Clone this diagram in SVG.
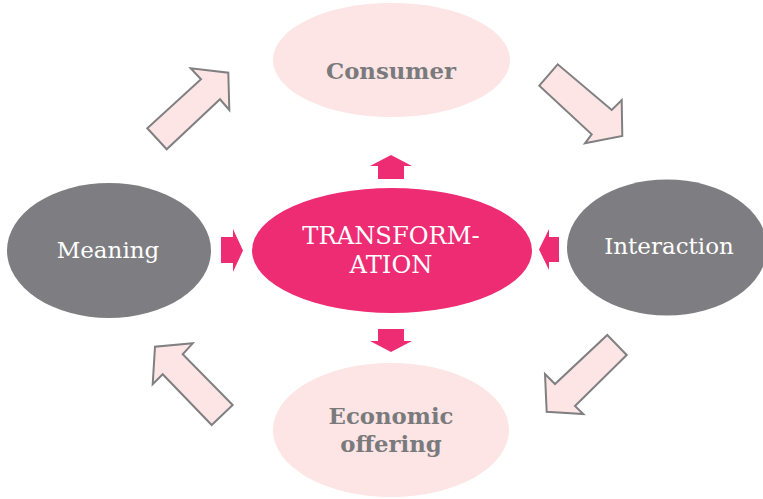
<svg xmlns="http://www.w3.org/2000/svg" width="763" height="499" viewBox="0 0 763 499">
<style>
.light{fill:#fce5e4}
.dark{fill:#7e7d81}
.mag{fill:#ee2c74}
.big{fill:#fce5e4;stroke:#808083;stroke-width:2;stroke-linejoin:miter}
.lbl{font-family:"DejaVu Serif","Liberation Serif",serif;text-anchor:middle}
.b{font-weight:bold;fill:#7a7a7d;font-size:22.8px}
.w{fill:#ffffff;font-size:23px}
.t{font-size:24.2px}
</style>
<rect width="763" height="499" fill="#ffffff"/>
<g id="connectors">
<polygon class="big" points="147.3,128.3 166.7,149.3 220,99.3 229.3,110 228.3,72.7 190.7,68.3 201,79.3"/>
<polygon class="big" points="557.7,64.3 539.3,85.7 591.7,134.3 585,143.3 622.3,136 621.7,100 611.7,110"/>
<polygon class="big" points="607.3,335 626.7,355 575,406 583.3,414 546.7,411.7 545,374 555,384"/>
<polygon class="big" points="211.7,425 232.7,405 182.7,354.3 192.7,343.3 155,346.7 152.7,384.3 162.7,374.3"/>
<polygon class="mag" points="378,179 404,179 404,166 412,166 391,155 370,166 378,166"/>
<polygon class="mag" points="378,329 404,329 404,341 412,341 391,352 370,341 378,341"/>
<polygon class="mag" points="221,237 233,237 233,229 243,250.5 233,272 233,263 221,263"/>
<polygon class="mag" points="559,237 549,237 549,229 539,249.5 549,270 549,262 559,262"/>
</g>
<g id="consumer">
<ellipse class="light" cx="391.5" cy="60" rx="118.5" ry="57"/>
<text class="lbl b" x="391" y="79">Consumer</text>
</g>
<g id="economic-offering">
<ellipse class="light" cx="391" cy="430" rx="118" ry="67"/>
<text class="lbl b" x="391" y="424">Economic</text>
<text class="lbl b" x="391" y="452">offering</text>
</g>
<g id="meaning">
<ellipse class="dark" cx="109" cy="250.5" rx="102" ry="67.5"/>
<text class="lbl w" x="108" y="258">Meaning</text>
</g>
<g id="interaction">
<ellipse class="dark" cx="667" cy="247.5" rx="100" ry="68"/>
<text class="lbl w" x="669" y="254">Interaction</text>
</g>
<g id="transformation">
<ellipse class="mag" cx="392" cy="250.5" rx="140" ry="62.5"/>
<text class="lbl w t" x="391" y="244">TRANSFORM-</text>
<text class="lbl w t" x="391" y="273">ATION</text>
</g>
</svg>
